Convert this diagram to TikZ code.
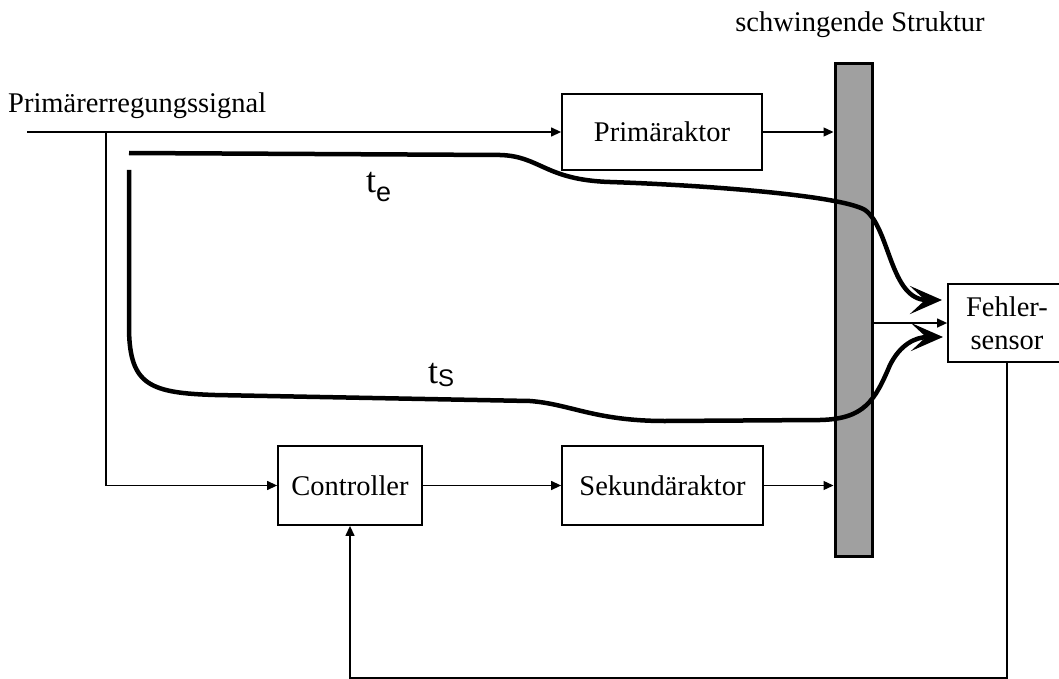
\documentclass[tikz,border=0pt]{standalone}
\usepackage{fontspec}
\setmainfont{Liberation Serif}
\newfontfamily\subfont{Liberation Sans}
\usetikzlibrary{arrows.meta}
\definecolor{structgray}{RGB}{160,160,160}
\begin{document}
\begin{tikzpicture}[x=1pt,y=-1pt,
  every node/.style={font=\fontsize{28.5}{33}\selectfont,inner sep=0pt},
  box/.style={draw,line width=1.8pt,minimum height=79pt},
  sig/.style={line width=1.3pt,-{Triangle[length=10pt,width=9pt]}},
  wave/.style={line width=4.5pt,-{Stealth[length=32pt,width=28pt,inset=15pt]}}]
\useasboundingbox (0,0) rectangle (1059,679);
% schwingende Struktur
\node[anchor=base] (title) at (860,32) {schwingende Struktur};
\node[draw,fill=structgray,line width=3pt,minimum width=37pt,minimum height=493pt] (bar) at (853.5,310) {};
% Bloecke
\node[anchor=base west] (insig) at (8,113) {Primärerregungssignal};
\node[box,minimum width=200pt,minimum height=76pt] (prim) at (662,132) {Primäraktor};
\node[box,minimum width=144pt] (ctrl) at (350,485.5) {Controller};
\node[box,minimum width=201pt] (sek) at (662.5,485.5) {Sekundäraktor};
\node[box,minimum width=118pt,minimum height=78pt,align=center] (fehler) at (1007,323) {Fehler-\\sensor};
\coordinate (in) at (27,132);
\coordinate (split) at (106,132);
\coordinate (fb) at (1007,678);
% Signalwege
\draw[sig] (in) -- (prim.west);
\draw[sig] (prim.east) -- (prim.east -| bar.west);
\draw[sig] (split) |- (ctrl.west);
\draw[sig] (ctrl.east) -- (sek.west);
\draw[sig] (sek.east) -- (sek.east -| bar.west);
\draw[sig] (fehler.west -| bar.east) -- (fehler.west);
\draw[sig] (fehler.south) -- (fb) -| (ctrl.south);
% Laufzeiten
\draw[wave] (129,153) -- (500,155) .. controls (540,156) and (545,180) .. (610,182)
  .. controls (700,185) and (840,195) .. (865,210) .. controls (890,228) and (890,300) .. (942,300);
\draw[wave] (129,170) -- (129,330) .. controls (130,385) and (150,393) .. (215,395) -- (530,401)
  .. controls (570,404) and (595,421) .. (665,421) -- (820,420) .. controls (865,419) and (875,400) .. (890,365)
  .. controls (900,345) and (915,337) .. (943,337);
\node[anchor=base west] (te) at (366,193) {\fontsize{36}{40}\selectfont t\raisebox{-9pt}{\subfont\fontsize{27}{30}\selectfont e}};
\node[anchor=base west] (ts) at (428,383) {\fontsize{36}{40}\selectfont t\raisebox{-3pt}{\subfont\fontsize{24}{30}\selectfont S}};
\end{tikzpicture}
\end{document}
